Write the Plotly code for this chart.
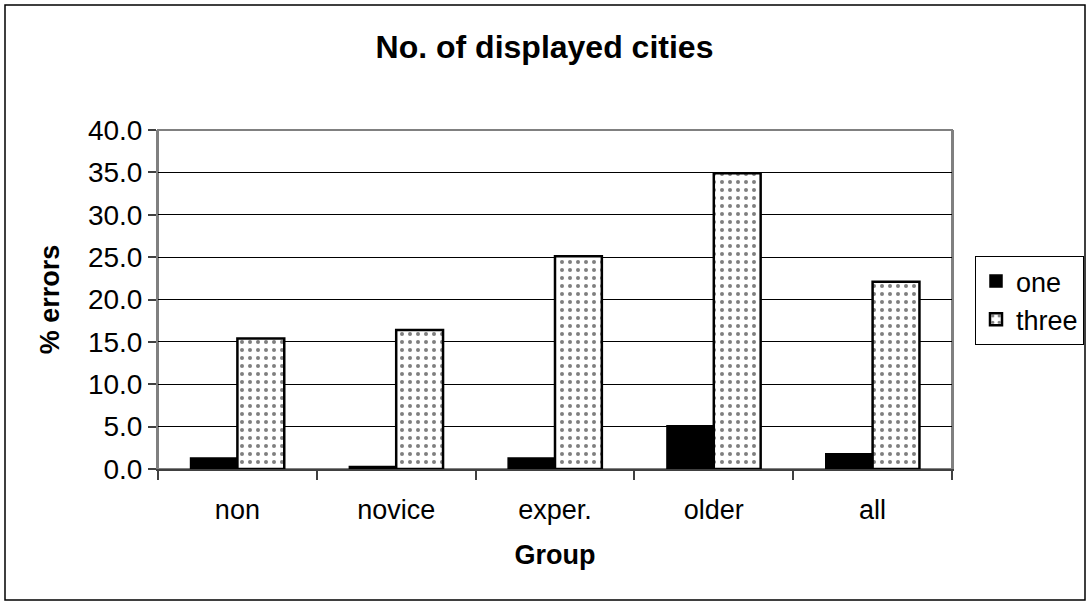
import plotly.graph_objects as go

categories = ["non", "novice", "exper.", "older", "all"]
one_values = [1.3, 0.3, 1.3, 5.1, 1.8]
three_values = [15.4, 16.4, 25.1, 34.9, 22.1]
y_ticks = [0, 5, 10, 15, 20, 25, 30, 35, 40]

FONT = "Liberation Sans, Arial, sans-serif"

fig = go.Figure()
fig.add_trace(go.Bar(
    x=categories, y=one_values, name="one",
    marker=dict(color="black", line=dict(color="black", width=1.5)),
))
fig.add_trace(go.Bar(
    x=categories, y=three_values, name="three",
    marker=dict(color="white", line=dict(color="black", width=2.5),
                pattern=dict(shape=".", fgcolor="black", bgcolor="white",
                             size=8, solidity=0.2)),
))

L, R, T, B = 158, 137, 130, 134
W, H = 1089, 603
pw, ph = W - L - R, H - T - B

def px_x(x):
    return (x - L) / pw

def px_y(y):
    return (H - B - y) / ph

fig.update_layout(
    width=W, height=H,
    margin=dict(l=L, r=R, t=T, b=B, autoexpand=False),
    paper_bgcolor="white", plot_bgcolor="white",
    barmode="group", bargap=0.41, bargroupgap=0,
    font=dict(family=FONT, color="black", size=26),
    title=dict(text="<b>No. of displayed cities</b>", x=0.5, xanchor="center",
               y=1 - 47 / H, yanchor="middle",
               font=dict(size=32, family=FONT, color="black")),
    legend=dict(xref="container", yref="container",
                x=975 / W, y=1 - 256 / H, xanchor="left", yanchor="top",
                bordercolor="black", borderwidth=1, bgcolor="white",
                font=dict(size=27, family=FONT), itemwidth=30,
                tracegroupgap=0),
    showlegend=True,
    shapes=[dict(type="rect", xref="paper", yref="paper",
                 x0=px_x(5), x1=px_x(1085), y0=px_y(600), y1=px_y(5),
                 line=dict(color="black", width=1.5), fillcolor="rgba(0,0,0,0)",
                 layer="below")],
)

fig.update_xaxes(
    type="category", showline=True, linecolor="#404040", linewidth=2,
    mirror=False, ticks="outside", tickson="boundaries", ticklen=9,
    tickcolor="#404040", tickwidth=1.5, showgrid=False, automargin=False,
    tickfont=dict(size=27, family=FONT), ticklabelstandoff=16,
    title=dict(text="<b>Group</b>", font=dict(size=27, family=FONT), standoff=21),
)
fig.update_yaxes(
    range=[0, 40], tickvals=y_ticks, tickformat=".1f",
    showline=True, linecolor="#808080", linewidth=2, mirror=True,
    ticks="outside", ticklen=8, tickcolor="#404040", tickwidth=1.5,
    showgrid=True, gridcolor="black", gridwidth=1, automargin=False,
    tickfont=dict(size=28, family=FONT), zeroline=False,
    title=dict(text="<b>% errors</b>", font=dict(size=27, family=FONT), standoff=20),
)
fig.add_shape(type="rect", xref="paper", yref="paper", x0=0, x1=1, y0=0, y1=1,
              line=dict(color="#808080", width=2), fillcolor="rgba(0,0,0,0)", layer="below")

fig.write_html("out.html")
